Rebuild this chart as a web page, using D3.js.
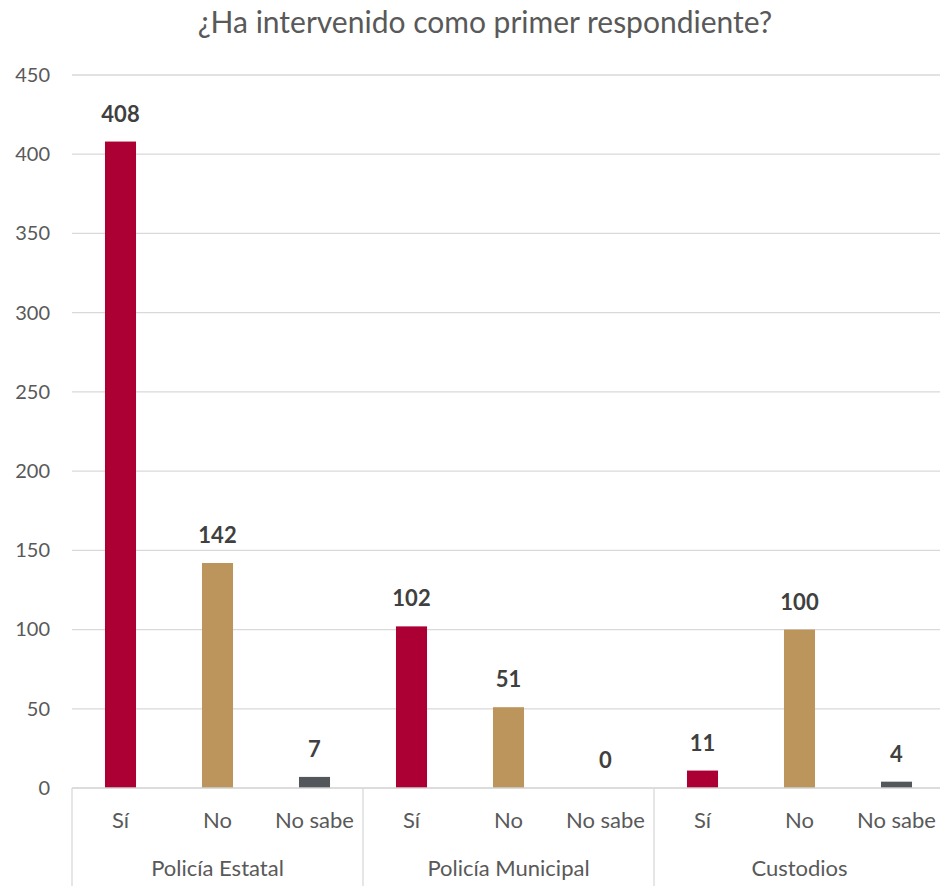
<!DOCTYPE html>
<html><head><meta charset="utf-8">
<script src="https://cdn.jsdelivr.net/npm/d3@7"></script>
<style>body{margin:0;background:#fff;} svg{display:block;font-family:Lato, "Open Sans", sans-serif;}</style>
</head><body>
<svg id="c" width="940" height="886"></svg>
<script>
const title = "¿Ha intervenido como primer respondiente?";
const groups = ["Policía Estatal", "Policía Municipal", "Custodios"];
const answers = ["Sí", "No", "No sabe"];
const values = [
  [408, 142, 7],
  [102, 51, 0],
  [11, 100, 4]
];
const yTicks = [0, 50, 100, 150, 200, 250, 300, 350, 400, 450];
const colors = ["#AC0034", "#BC955C", "#53565A"];

const svg = d3.select("#c");
const mLeft = 72, mRight = 945, mTop = 75, mBottom = 788;

const items = [];
groups.forEach((g, gi) => answers.forEach((a, ai) => items.push({g, gi, a, ai, v: values[gi][ai], key: gi + "-" + ai})));

const x = d3.scaleBand().domain(items.map(d => d.key)).range([mLeft, mRight]).paddingInner(0).paddingOuter(0);
const y = d3.scaleLinear().domain([0, 450]).range([mBottom, mTop]);

// gridlines
svg.append("g").selectAll("line").data(yTicks.filter(t => t > 0)).join("line")
  .attr("x1", mLeft).attr("x2", mRight).attr("y1", d => y(d)).attr("y2", d => y(d))
  .attr("stroke", "#d9d9d9").attr("stroke-width", 1.3);

// y axis labels
const yAxis = d3.axisLeft(y).tickValues(yTicks).tickSize(0).tickPadding(0);
const ya = svg.append("g").attr("transform", `translate(50,0)`).call(yAxis);
ya.select(".domain").remove();
ya.selectAll("text").attr("font-size", 20).attr("fill", "#595959").attr("font-family", "Lato, sans-serif");

// bars
const bw = x.bandwidth() * 0.32;
svg.append("g").selectAll("rect").data(items).join("rect")
  .attr("x", d => x(d.key) + x.bandwidth() / 2 - bw / 2)
  .attr("width", bw)
  .attr("y", d => y(d.v))
  .attr("height", d => y(0) - y(d.v))
  .attr("fill", d => colors[d.ai]);

// data labels
svg.append("g").selectAll("text").data(items).join("text")
  .attr("x", d => x(d.key) + x.bandwidth() / 2)
  .attr("y", d => y(d.v) - 20)
  .attr("text-anchor", "middle")
  .attr("font-size", 22).attr("font-weight", "bold").attr("fill", "#404040")
  .text(d => d.v);

// baseline
svg.append("line").attr("x1", mLeft).attr("x2", mRight).attr("y1", y(0)).attr("y2", y(0))
  .attr("stroke", "#d0d0d0").attr("stroke-width", 1.5);

// group separators
const seps = groups.map((g, gi) => x(gi + "-0")).concat([mRight]);
svg.append("g").selectAll("line").data(seps).join("line")
  .attr("x1", d => d).attr("x2", d => d).attr("y1", y(0)).attr("y2", 886)
  .attr("stroke", "#d9d9d9").attr("stroke-width", 1.3);

// category labels
svg.append("g").selectAll("text").data(items).join("text")
  .attr("x", d => x(d.key) + x.bandwidth() / 2)
  .attr("y", 828)
  .attr("text-anchor", "middle").attr("font-size", 22).attr("fill", "#595959")
  .text(d => d.a);

// group labels
svg.append("g").selectAll("text").data(groups).join("text")
  .attr("x", (d, i) => (x(i + "-0") + x(i + "-2") + x.bandwidth()) / 2)
  .attr("y", 876)
  .attr("text-anchor", "middle").attr("font-size", 22).attr("fill", "#595959")
  .text(d => d);

// title
svg.append("text").attr("x", 485).attr("y", 33).attr("text-anchor", "middle")
  .attr("font-size", 30).attr("fill", "#595959").text(title);
</script>
</body></html>
